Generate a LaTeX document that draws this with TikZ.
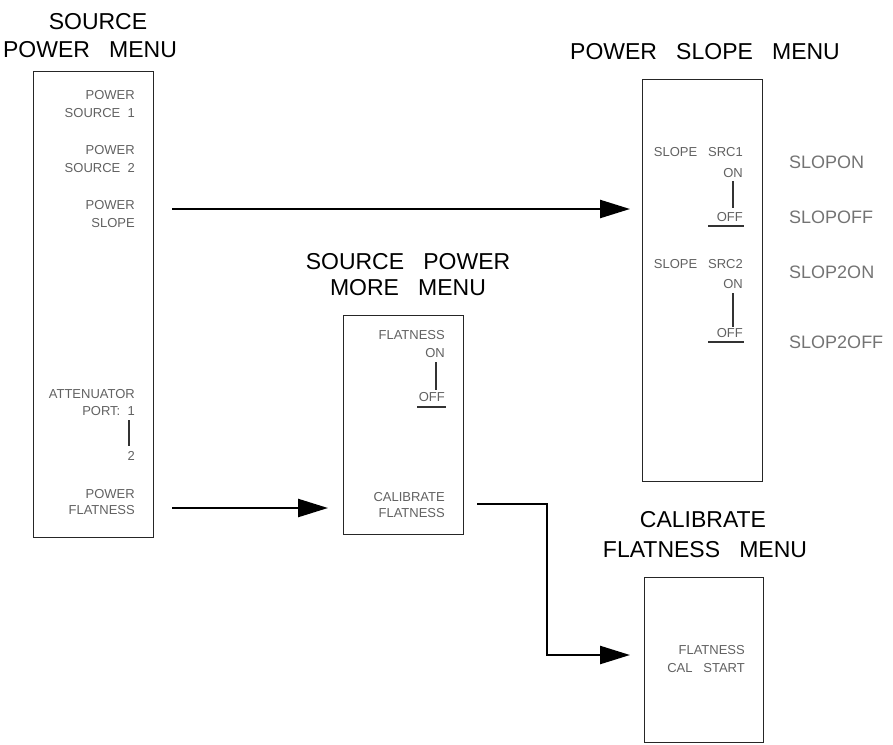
\documentclass[tikz,border=0pt]{standalone}
\usepackage{fontspec}
\setmainfont{Liberation Sans}
\usetikzlibrary{arrows.meta}
\tikzset{
  menubox/.style={draw=black!85, line width=1.3pt, anchor=north west, inner sep=0pt},
  title/.style={font=\fontsize{23}{23}\selectfont, text=black, inner sep=0pt},
  key/.style={font=\fontsize{13}{13}\selectfont, text=black!62, inner sep=0pt, anchor=east},
  side/.style={font=\fontsize{18}{18}\selectfont, text=black!55, inner sep=0pt, anchor=west},
  sel/.style={line width=1.1pt, draw=black!80},
  flow/.style={line width=2.4pt, -{Triangle[length=30pt,width=18pt]}}
}
\begin{document}
\begin{tikzpicture}[x=1pt,y=-1pt]
\useasboundingbox (0,0) rectangle (893,744);
% ---------- boxes
\node[menubox, minimum width=120pt, minimum height=466pt] (b1) at (33,71) {};
\node[menubox, minimum width=120pt, minimum height=219pt] (b2) at (343,315) {};
\node[menubox, minimum width=120pt, minimum height=402pt] (b3) at (642,79) {};
\node[menubox, minimum width=119pt, minimum height=165pt] (b4) at (644,577) {};
% ---------- titles
\node[title] (t1a) at (98,22) {SOURCE};
\node[title] (t1b) at (90,50) {POWER\ \ \ MENU};
\node[title] (t2a) at (408,262) {SOURCE\ \ \ POWER};
\node[title] (t2b) at (408,288) {MORE\ \ \ MENU};
\node[title] (t3) at (705,52) {POWER\ \ \ SLOPE\ \ \ MENU};
\node[title] (t4a) at (703,520) {CALIBRATE};
\node[title] (t4b) at (705,550) {FLATNESS\ \ \ MENU};
% ---------- box 1 keys
\node[key] (k1a) at (135,95) {POWER};
\node[key] (k1b) at (135,113) {SOURCE\ \ 1};
\node[key] (k2a) at (135,150) {POWER};
\node[key] (k2b) at (135,168) {SOURCE\ \ 2};
\node[key] (k3a) at (135,205) {POWER};
\node[key] (k3b) at (135,223) {SLOPE};
\node[key] (k4a) at (135,394) {ATTENUATOR};
\node[key] (k4b) at (135,411) {PORT:\ \ 1};
\draw[sel] (129,420) -- (129,446);
\node[key] (k4c) at (135,456) {2};
\node[key] (k5a) at (135,494) {POWER};
\node[key] (k5b) at (135,510) {FLATNESS};
% ---------- box 2 keys
\node[key] (m1a) at (445,335) {FLATNESS};
\node[key] (m1b) at (445,353) {ON};
\draw[sel] (436,362) -- (436,390);
\node[key] (m1c) at (445,397) {OFF};
\draw[sel] (417,407) -- (446,407);
\node[key] (m2a) at (445,497) {CALIBRATE};
\node[key] (m2b) at (445,513) {FLATNESS};
% ---------- box 3 keys
\node[key] (s1a) at (743,152) {SLOPE\ \ \ SRC1};
\node[key] (s1b) at (743,173) {ON};
\draw[sel] (733,181) -- (733,208);
\node[key] (s1c) at (743,217) {OFF};
\draw[sel] (708,226) -- (744,226);
\node[key] (s2a) at (743,264) {SLOPE\ \ \ SRC2};
\node[key] (s2b) at (743,284) {ON};
\draw[sel] (733,293) -- (733,327);
\node[key] (s2c) at (743,333) {OFF};
\draw[sel] (708,342) -- (744,342);
\node[side] (c1) at (789,162) {SLOPON};
\node[side] (c2) at (789,217) {SLOPOFF};
\node[side] (c3) at (789,272) {SLOP2ON};
\node[side] (c4) at (789,342) {SLOP2OFF};
% ---------- box 4 keys
\node[key] (f1a) at (745,650) {FLATNESS};
\node[key] (f1b) at (745,668) {CAL\ \ \ START};
% ---------- connectors
\coordinate (a1s) at (172,209);
\coordinate (a1e) at (630,209);
\coordinate (a2s) at (172,508);
\coordinate (a2e) at (328,508);
\coordinate (a3s) at (477,504);
\coordinate (a3m) at (547,655);
\coordinate (a3e) at (630,655);
\draw[flow] (a1s) -- (a1e);
\draw[flow] (a2s) -- (a2e);
\draw[flow] (a3s) -| (a3m) -- (a3e);
\end{tikzpicture}
\end{document}
